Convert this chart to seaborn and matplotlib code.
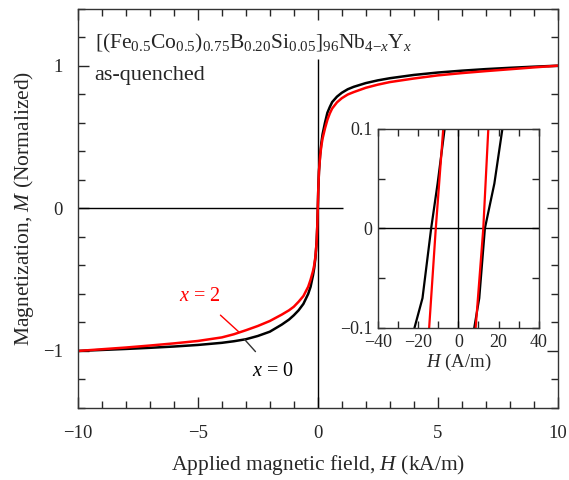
import seaborn as sns
import matplotlib.pyplot as plt
import matplotlib.ticker as mticker
import pandas as pd
import numpy as np

# main loop, kA/m vs normalized M
h_neg = [-10, -9, -8, -7, -6, -5, -4, -3.5, -3, -2.5, -2, -1.5, -1.2, -1, -0.8, -0.6, -0.4,
         -0.3, -0.2, -0.15, -0.1, -0.05, -0.02, 0]
h_pos = [0.02, 0.05, 0.1, 0.15, 0.2, 0.3, 0.4, 0.5, 0.6, 0.8, 1, 1.25, 1.5, 2, 2.5, 3, 4, 5,
         6, 7, 8, 9, 10]
m_x0_neg = [-1.0, -0.993, -0.986, -0.978, -0.969, -0.958, -0.943, -0.932, -0.918, -0.895,
            -0.865, -0.815, -0.78, -0.75, -0.715, -0.67, -0.6, -0.55, -0.47, -0.42, -0.35,
            -0.24, -0.12, 0]
m_x0_pos = [0.13, 0.26, 0.38, 0.46, 0.52, 0.6, 0.67, 0.71, 0.745, 0.783, 0.81, 0.835, 0.852,
            0.878, 0.897, 0.912, 0.935, 0.952, 0.965, 0.976, 0.985, 0.993, 1.0]
m_x2_neg = [-1.0, -0.988, -0.976, -0.962, -0.947, -0.93, -0.905, -0.883, -0.855, -0.825,
            -0.79, -0.745, -0.715, -0.69, -0.655, -0.615, -0.55, -0.5, -0.44, -0.4, -0.34,
            -0.24, -0.12, 0]
m_x2_pos = [0.13, 0.26, 0.37, 0.44, 0.49, 0.56, 0.62, 0.665, 0.7, 0.743, 0.772, 0.798,
            0.815, 0.845, 0.867, 0.885, 0.91, 0.932, 0.948, 0.962, 0.975, 0.988, 1.0]

# inset, A/m
ins_m = [-0.1, -0.07, 0, 0.045, 0.1]
ins_x0_down = [-21.8, -17.8, -13.5, -10.3, -6.8]
ins_x0_up = [7.9, 10.4, 13.2, 17.9, 21.9]
ins_m_red = [-0.1, 0, 0.1]
ins_x2_down = [-14.5, -11.2, -7.5]
ins_x2_up = [8.6, 12.4, 14.9]

sns.set_style('ticks')
plt.rcParams['font.family'] = ['Liberation Serif', 'DejaVu Serif']
plt.rcParams['mathtext.fontset'] = 'custom'
plt.rcParams['mathtext.rm'] = 'Liberation Serif'
plt.rcParams['mathtext.it'] = 'Liberation Serif:italic'
plt.rcParams['axes.edgecolor'] = '#333333'
plt.rcParams['axes.linewidth'] = 1.0

df = pd.DataFrame({'H': h_neg + h_pos, 'x0': m_x0_neg + m_x0_pos, 'x2': m_x2_neg + m_x2_pos})

fig = plt.figure(figsize=(5.69, 4.8), dpi=100)
ax = fig.add_axes([0.137, 0.15, 0.843, 0.832])

ax.hlines(0, -10, 1.05, color='black', lw=1.0)
ax.vlines(0, -1.4, 1.05, color='black', lw=1.0)
sns.lineplot(data=df, x='H', y='x0', ax=ax, color='black', lw=1.8)
sns.lineplot(data=df, x='H', y='x2', ax=ax, color='red', lw=1.8)

ax.set_xlim(-10, 10)
ax.set_ylim(-1.4, 1.4)
ax.xaxis.set_major_locator(mticker.MultipleLocator(5))
ax.xaxis.set_minor_locator(mticker.MultipleLocator(1))
ax.set_yticks([-1, 0, 1])
ax.yaxis.set_minor_locator(mticker.MultipleLocator(0.2))
ax.tick_params(which='both', direction='in', top=True, right=True, labelsize=13.5)
ax.tick_params(axis='x', which='both', pad=12)
ax.tick_params(axis='y', which='both', pad=11)
ax.tick_params(which='major', length=8, width=1.0)
ax.tick_params(which='minor', length=5, width=1.0)
ax.set_xlabel('Applied magnetic field, $\\mathit{H}$ (kA/m)', fontsize=15.5, labelpad=8)
ax.set_ylabel('Magnetization, $\\mathit{M}$ (Normalized)', fontsize=15.5, labelpad=5)

ax.text(-9.3, 1.12, r'$[(\mathrm{Fe}_{0.5}\mathrm{Co}_{0.5})_{0.75}\mathrm{B}_{0.20}\mathrm{Si}_{0.05}]_{96}'
        r'\mathrm{Nb}_{4\mathrm{-}x}\mathrm{Y}_{x}$', fontsize=15.5, va='baseline', ha='left')
ax.text(-9.3, 0.9, 'as-quenched', fontsize=16, va='baseline', ha='left')

ax.annotate('$x$ = 2', xy=(-3.27, -0.87), xytext=(-4.9, -0.62), color='red', fontsize=14.5,
            ha='center', va='center',
            arrowprops=dict(arrowstyle='-', color='red', lw=1.0, shrinkA=6, shrinkB=0))
ax.annotate('$x$ = 0', xy=(-3.06, -0.918), xytext=(-1.85, -1.145), color='black', fontsize=14.5,
            ha='center', va='center',
            arrowprops=dict(arrowstyle='-', color='#333333', lw=1.0, shrinkA=7, shrinkB=0))

# inset
axi = fig.add_axes([0.664, 0.3167, 0.283, 0.415])
axi.axhline(0, color='black', lw=1.0)
axi.axvline(0, color='black', lw=1.0)
sns.lineplot(x=ins_x0_down, y=ins_m, ax=axi, color='black', lw=1.6, sort=False)
sns.lineplot(x=ins_x0_up, y=ins_m, ax=axi, color='black', lw=1.6, sort=False)
sns.lineplot(x=ins_x2_down, y=ins_m_red, ax=axi, color='red', lw=1.6, sort=False)
sns.lineplot(x=ins_x2_up, y=ins_m_red, ax=axi, color='red', lw=1.6, sort=False)
axi.set_xlim(-40, 40)
axi.set_ylim(-0.1, 0.1)
axi.set_xticks([-40, -20, 0, 20, 40])
axi.xaxis.set_minor_locator(mticker.MultipleLocator(10))
axi.set_yticks([-0.1, 0, 0.1])
axi.set_yticklabels(['\u22120.1', '0', '0.1'])
axi.yaxis.set_minor_locator(mticker.MultipleLocator(0.05))
axi.tick_params(which='both', direction='in', top=True, right=True, length=5, width=1.0,
                labelsize=13, pad=4)
axi.set_xlabel('$\\mathit{H}$ (A/m)', fontsize=13.5, labelpad=1)
axi.set_ylabel('')

fig.savefig('out.png', dpi=100)
